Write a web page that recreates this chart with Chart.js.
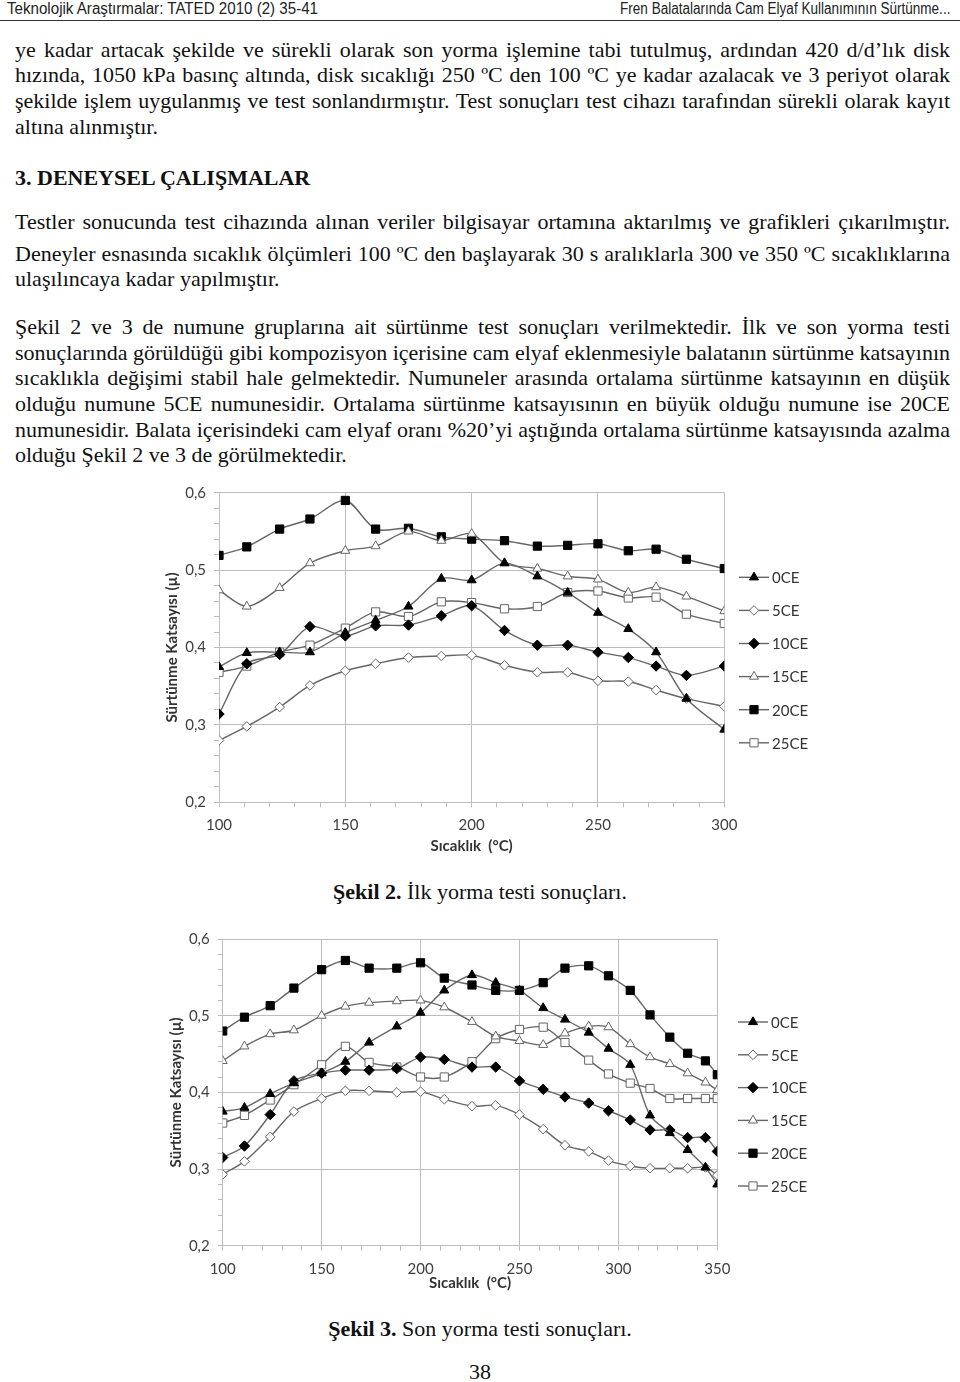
<!DOCTYPE html>
<html>
<head>
<meta charset="utf-8">
<script src="https://cdn.jsdelivr.net/npm/chart.js@4"></script>
<style>
  body { margin: 0; background: #fff; width: 960px; height: 1382px; position: relative; overflow: hidden; }
  .hdr { position: absolute; top: 0px; font: 16px "Liberation Sans", Arial, sans-serif; color: #222; white-space: nowrap; }
  .rule { position: absolute; left: 0; top: 20px; width: 960px; height: 1px; background: #333; }
  .ln { position: absolute; left: 15px; width: 935px; font: 22px "Liberation Serif", "Times New Roman", serif; color: #111; white-space: nowrap; line-height: 24px; }
  .j { text-align: justify; text-align-last: justify; }
  .cap { position: absolute; width: 960px; left: 0; text-align: center; font: 22px "Liberation Serif", serif; color: #111; line-height: 24px; }
  canvas { position: absolute; }
</style>
</head>
<body>
<div class="hdr" id="h1" style="left:7px">Teknolojik Araştırmalar: TATED 2010 (2) 35-41</div>
<div class="hdr" id="h2" style="right:10px">Fren Balatalarında Cam Elyaf Kullanımının Sürtünme...</div>
<div class="rule"></div>

<div class="ln j" style="top:38px">ye kadar artacak şekilde ve sürekli olarak son yorma işlemine tabi tutulmuş, ardından 420 d/d’lık disk</div>
<div class="ln j" style="top:63px">hızında, 1050 kPa basınç altında, disk sıcaklığı 250 ºC den 100 ºC ye kadar azalacak ve 3 periyot olarak</div>
<div class="ln j" style="top:89px">şekilde işlem uygulanmış ve test sonlandırmıştır. Test sonuçları test cihazı tarafından sürekli olarak kayıt</div>
<div class="ln" style="top:115px">altına alınmıştır.</div>
<div class="ln" style="top:166px; font-weight:bold">3. DENEYSEL ÇALIŞMALAR</div>
<div class="ln j" style="top:210px">Testler sonucunda test cihazında alınan veriler bilgisayar ortamına aktarılmış ve grafikleri çıkarılmıştır.</div>
<div class="ln j" style="top:242px">Deneyler esnasında sıcaklık ölçümleri 100 ºC den başlayarak 30 s aralıklarla 300 ve 350 ºC sıcaklıklarına</div>
<div class="ln" style="top:267px">ulaşılıncaya kadar yapılmıştır.</div>
<div class="ln j" style="top:315px">Şekil 2 ve 3 de numune gruplarına ait sürtünme test sonuçları verilmektedir. İlk ve son yorma testi</div>
<div class="ln j" style="top:341px">sonuçlarında görüldüğü gibi kompozisyon içerisine cam elyaf eklenmesiyle balatanın sürtünme katsayının</div>
<div class="ln j" style="top:366px">sıcaklıkla değişimi stabil hale gelmektedir. Numuneler arasında ortalama sürtünme katsayının en düşük</div>
<div class="ln j" style="top:392px">olduğu numune 5CE numunesidir. Ortalama sürtünme katsayısının en büyük olduğu numune ise 20CE</div>
<div class="ln j" style="top:418px">numunesidir. Balata içerisindeki cam elyaf oranı %20’yi aştığında ortalama sürtünme katsayısında azalma</div>
<div class="ln" style="top:443px">olduğu Şekil 2 ve 3 de görülmektedir.</div>

<canvas id="chart1" width="700" height="400" style="left:140px; top:470px"></canvas>
<div class="cap" style="top:880px"><b>Şekil 2.</b> İlk yorma testi sonuçları.</div>

<canvas id="chart2" width="700" height="400" style="left:140px; top:915px"></canvas>
<div class="cap" style="top:1317px"><b>Şekil 3.</b> Son yorma testi sonuçları.</div>
<div class="cap" style="top:1360px">38</div>

<script>
// series names (same for both figures)
const seriesNames = ['0CE', '5CE', '10CE', '15CE', '20CE', '25CE'];

// Şekil 2 - first fade test, temperature (°C)
const temps1 = [100, 111, 124, 136, 150, 162, 175, 188, 200, 213, 226, 238, 250, 262, 273, 285, 300];
const ce0_1  = [0.375, 0.393, 0.394, 0.394, 0.419, 0.435, 0.453, 0.489, 0.487, 0.509, 0.492, 0.471, 0.445, 0.424, 0.394, 0.334, 0.294];
const ce5_1  = [0.280, 0.298, 0.323, 0.351, 0.370, 0.379, 0.387, 0.389, 0.390, 0.377, 0.368, 0.368, 0.357, 0.356, 0.345, 0.334, 0.324];
const ce10_1 = [0.314, 0.379, 0.391, 0.427, 0.415, 0.428, 0.429, 0.441, 0.454, 0.422, 0.403, 0.403, 0.394, 0.387, 0.376, 0.364, 0.376];
const ce15_1 = [0.474, 0.453, 0.477, 0.509, 0.525, 0.531, 0.550, 0.538, 0.547, 0.509, 0.502, 0.492, 0.488, 0.471, 0.478, 0.466, 0.447];
const ce20_1 = [0.519, 0.530, 0.553, 0.566, 0.590, 0.553, 0.554, 0.543, 0.540, 0.538, 0.531, 0.532, 0.534, 0.525, 0.527, 0.514, 0.502];
const ce25_1 = [0.368, 0.376, 0.394, 0.403, 0.425, 0.446, 0.440, 0.459, 0.458, 0.450, 0.453, 0.471, 0.473, 0.464, 0.465, 0.443, 0.431];

// Şekil 3 - last fade test
const temps2 = [100, 111, 124, 136, 150, 162, 174, 188, 200, 212, 226, 238, 250, 262, 273, 285, 295, 306, 316, 326, 335, 344, 350];
const ce0_2  = [0.375, 0.380, 0.398, 0.412, 0.425, 0.440, 0.465, 0.486, 0.504, 0.533, 0.553, 0.543, 0.533, 0.510, 0.495, 0.478, 0.457, 0.436, 0.370, 0.347, 0.325, 0.302, 0.280];
const ce5_2  = [0.293, 0.310, 0.342, 0.375, 0.392, 0.402, 0.402, 0.400, 0.401, 0.391, 0.382, 0.383, 0.371, 0.352, 0.331, 0.323, 0.311, 0.304, 0.301, 0.301, 0.301, 0.302, 0.292];
const ce10_2 = [0.315, 0.330, 0.371, 0.415, 0.425, 0.429, 0.429, 0.431, 0.446, 0.443, 0.433, 0.433, 0.415, 0.404, 0.394, 0.386, 0.376, 0.364, 0.351, 0.351, 0.341, 0.341, 0.323];
const ce15_2 = [0.441, 0.460, 0.476, 0.481, 0.500, 0.512, 0.517, 0.519, 0.520, 0.511, 0.492, 0.473, 0.467, 0.462, 0.477, 0.486, 0.485, 0.463, 0.446, 0.437, 0.425, 0.413, 0.403];
const ce20_2 = [0.480, 0.498, 0.513, 0.536, 0.560, 0.572, 0.562, 0.562, 0.569, 0.549, 0.540, 0.533, 0.533, 0.543, 0.562, 0.565, 0.552, 0.533, 0.501, 0.472, 0.451, 0.441, 0.423];
const ce25_2 = [0.360, 0.370, 0.390, 0.410, 0.436, 0.460, 0.439, 0.433, 0.420, 0.420, 0.440, 0.470, 0.482, 0.485, 0.465, 0.442, 0.424, 0.412, 0.405, 0.392, 0.392, 0.392, 0.392];

const yMin = 0.2, yMax = 0.6, xMin = 100;

// marker look per series: [pointStyle, filled, radius]
const markers = [
  ['triangle', true, 5.2],
  ['rectRot', false, 4.8],
  ['rectRot', true, 5.2],
  ['triangle', false, 5.2],
  ['rect', true, 5.8],
  ['rect', false, 5.8]
];

const lineGray = '#666';
const gridGray = '#bdbdbd';
const tickFont = { family: 'Lato, "Open Sans", sans-serif', size: 15 };
const titleFont = { family: 'Lato, "Open Sans", sans-serif', size: 15, weight: 'bold' };

function makeSets(xs, ys) {
  return ys.map((vals, i) => ({
    label: seriesNames[i],
    data: vals.map((v, k) => ({ x: xs[k], y: v })),
    borderColor: lineGray,
    borderWidth: 1.4,
    tension: 0.3,
    pointStyle: markers[i][0],
    pointRadius: markers[i][2],
    pointBackgroundColor: markers[i][1] ? '#000' : '#fff',
    pointBorderColor: markers[i][1] ? '#000' : lineGray,
    pointBorderWidth: 1
  }));
}

// legend drawn at the right of the plot
const sideLegend = {
  id: 'sideLegend',
  afterDraw(chart, args, opts) {
    const ctx = chart.ctx;
    ctx.save();
    chart.data.datasets.forEach((ds, i) => {
      const y = opts.top + i * opts.step;
      ctx.strokeStyle = lineGray;
      ctx.lineWidth = 1.4;
      ctx.beginPath();
      ctx.moveTo(opts.x, y);
      ctx.lineTo(opts.x + 30, y);
      ctx.stroke();
      ctx.fillStyle = ds.pointBackgroundColor;
      ctx.strokeStyle = ds.pointBorderColor;
      ctx.lineWidth = 1;
      Chart.helpers.drawPoint(ctx, { pointStyle: ds.pointStyle, radius: ds.pointRadius, rotation: 0, borderWidth: 1 }, opts.x + 15, y);
      ctx.fillStyle = '#333';
      ctx.font = '15px Lato, "Open Sans", sans-serif';
      ctx.textBaseline = 'middle';
      ctx.fillText(ds.label, opts.x + 33, y + 1);
    });
    ctx.restore();
  }
};

function buildChart(id, xs, ys, xMax, box) {
  return new Chart(document.getElementById(id), {
    type: 'line',
    data: { datasets: makeSets(xs, ys) },
    plugins: [sideLegend],
    options: {
      responsive: false,
      animation: false,
      devicePixelRatio: 1,
      layout: { autoPadding: false, padding: { left: 0, right: box.right, top: box.top, bottom: 0 } },
      plugins: {
        legend: { display: false },
        tooltip: { enabled: false },
        sideLegend: box.legend
      },
      scales: {
        x: {
          type: 'linear',
          min: xMin,
          max: xMax,
          afterBuildTicks: s => { s.ticks = []; for (let v = xMin; v <= xMax; v += 10) s.ticks.push({ value: v }); },
          afterFit: s => { s.height = box.xh; },
          ticks: {
            autoSkip: false,
            maxRotation: 0,
            padding: box.xpad,
            color: '#404040',
            font: tickFont,
            callback: v => (v % 50 === 0 ? String(v) : '')
          },
          grid: {
            color: c => (c.tick && c.tick.value % 50 === 0 ? gridGray : 'rgba(0,0,0,0)'),
            tickColor: gridGray,
            tickLength: 5
          },
          border: { color: gridGray },
          title: { display: true, text: 'Sıcaklık  (°C)', color: '#333', font: titleFont, padding: { top: 0, bottom: box.xtp } }
        },
        y: {
          min: yMin,
          max: yMax,
          afterBuildTicks: s => { s.ticks = []; for (let k = 0; k <= 20; k++) s.ticks.push({ value: Math.round((yMin + k * 0.02) * 100) / 100 }); },
          afterFit: s => { s.width = box.yw; },
          ticks: {
            autoSkip: false,
            padding: 8,
            color: '#404040',
            font: tickFont,
            callback: v => (Math.abs(v * 10 - Math.round(v * 10)) < 1e-6 ? v.toFixed(1).replace('.', ',') : '')
          },
          grid: {
            color: c => (c.tick && Math.abs(c.tick.value * 10 - Math.round(c.tick.value * 10)) < 1e-6 ? gridGray : 'rgba(0,0,0,0)'),
            tickColor: gridGray,
            tickLength: 5
          },
          border: { color: gridGray },
          title: { display: true, text: 'Sürtünme Katsayısı (µ)', color: '#333', font: titleFont, padding: { top: box.ytp, bottom: 0 } }
        }
      }
    }
  });
}

buildChart('chart1', temps1, [ce0_1, ce5_1, ce10_1, ce15_1, ce20_1, ce25_1], 300,
  { right: 115.7, top: 22.7, xh: 67.7, yw: 79, xpad: 9, xtp: 15, ytp: 23, legend: { x: 599, top: 107.3, step: 33.1 } });
buildChart('chart2', temps2, [ce0_2, ce5_2, ce10_2, ce15_2, ce20_2, ce25_2], 350,
  { right: 122.7, top: 24, xh: 69.3, yw: 82.7, xpad: 9, xtp: 23, ytp: 27, legend: { x: 598, top: 107, step: 32.8 } });

// header: squeeze to the narrow look of the original
[['h1', 311], ['h2', 330]].forEach(([id, w]) => {
  const el = document.getElementById(id);
  const s = w / el.offsetWidth;
  el.style.transformOrigin = id === 'h1' ? 'left top' : 'right top';
  el.style.transform = 'scaleX(' + s + ')';
});

// keep long justified lines inside the text block
document.querySelectorAll('.ln.j').forEach(el => {
  const probe = document.createElement('span');
  probe.textContent = el.textContent;
  probe.style.font = getComputedStyle(el).font;
  probe.style.whiteSpace = 'nowrap';
  probe.style.position = 'absolute';
  probe.style.visibility = 'hidden';
  document.body.appendChild(probe);
  const over = probe.offsetWidth - 935;
  if (over > 0) el.style.letterSpacing = (-(over + 1) / el.textContent.length) + 'px';
  probe.remove();
});
</script>
</body>
</html>
